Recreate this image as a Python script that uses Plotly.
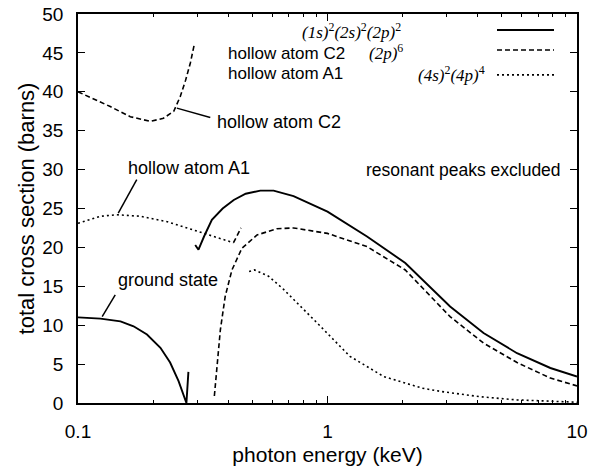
import plotly.graph_objects as go

# ---- data ----
ground_x = [0.1, 0.123, 0.148, 0.167, 0.189, 0.214, 0.234, 0.253, 0.272, 0.277]
ground_y = [11.0, 10.85, 10.5, 9.86, 8.8, 7.1, 5.2, 2.8, 0.0, 4.0]

solid_hi_x = [0.295, 0.304, 0.32, 0.344, 0.38, 0.421, 0.47, 0.538, 0.608, 0.731, 1.0, 1.44, 2.05, 3.10, 4.22, 5.75, 7.82, 10.0]
solid_hi_y = [20.3, 19.7, 21.4, 23.55, 25.0, 26.1, 26.9, 27.3, 27.3, 26.6, 24.6, 21.4, 18.0, 12.4, 9.0, 6.4, 4.5, 3.4]

c2_lo_x = [0.1, 0.1347, 0.162, 0.195, 0.22, 0.242, 0.257, 0.27, 0.282, 0.293]
c2_lo_y = [40.0, 38.1, 36.8, 36.2, 36.6, 37.5, 39.4, 41.5, 43.7, 46.2]

c2_tick_x = [0.42, 0.45]
c2_tick_y = [20.6, 22.5]

c2_hi_x = [0.352, 0.361, 0.372, 0.389, 0.414, 0.454, 0.522, 0.627, 0.731, 1.0, 1.44, 2.05, 3.10, 4.22, 5.75, 7.82, 10.0]
c2_hi_y = [0.9, 4.7, 9.4, 13.7, 17.1, 19.9, 21.6, 22.4, 22.5, 21.8, 20.1, 17.1, 11.1, 7.7, 5.2, 3.2, 2.2]

a1_lo_x = [0.1, 0.123, 0.143, 0.178, 0.228, 0.28, 0.33, 0.38, 0.42]
a1_lo_y = [23.1, 24.0, 24.2, 24.0, 23.3, 22.4, 21.6, 21.0, 20.6]

a1_hi_x = [0.485, 0.51, 0.58, 0.667, 0.908, 1.23, 1.68, 2.4, 2.83, 4.1, 5.75, 7.1, 10.0]
a1_hi_y = [16.9, 17.1, 16.3, 14.6, 10.3, 6.0, 3.4, 1.9, 1.5, 0.8, 0.4, 0.25, 0.1]

# leader lines for curve labels
lead_ground = ([0.141, 0.125], [13.9, 11.1])
lead_a1 = ([0.172, 0.145], [28.7, 24.4])
lead_c2 = ([0.249, 0.339], [37.9, 36.7])

x_major = [0.1, 1, 10]
x_major_text = ["0.1", "1", "10"]
x_minor = [0.2, 0.3, 0.4, 0.5, 0.6, 0.7, 0.8, 0.9, 2, 3, 4, 5, 6, 7, 8, 9]
y_ticks = list(range(0, 51, 5))

SANS = "Liberation Sans, Helvetica, Arial, sans-serif"
SERIF = "Liberation Serif, Times New Roman, serif"
DASH = "5px,3px"
DOT = "2px,3px"

fig = go.Figure()

def add_line(x, y, dash, width=1.6):
    fig.add_trace(go.Scatter(x=x, y=y, mode="lines", showlegend=False,
                             line=dict(color="black", width=width, dash=dash),
                             hoverinfo="skip"))

add_line(ground_x, ground_y, "solid", 1.9)
add_line(solid_hi_x, solid_hi_y, "solid", 1.9)
add_line(c2_lo_x, c2_lo_y, DASH)
add_line(c2_tick_x, c2_tick_y, DASH)
add_line(c2_hi_x, c2_hi_y, DASH)
add_line(a1_lo_x, a1_lo_y, DOT)
add_line(a1_hi_x, a1_hi_y, DOT)
for lx, ly in (lead_ground, lead_a1, lead_c2):
    add_line(lx, ly, "solid", 1.5)

# plot area in pixels
L, R, T, B = 78, 577, 14, 403.5
W, H = R - L, B - T

def px(x):
    return (x - L) / W

def py(y):
    return (B - y) / H

annotations = []

def text(xp, yp, s, xanchor="center", font=SANS, size=18):
    annotations.append(dict(x=px(xp), y=py(yp), xref="paper", yref="paper",
                            text=s, showarrow=False, xanchor=xanchor, yanchor="middle",
                            font=dict(family=font, size=size, color="black")))

# curve labels
text(168, 280, "ground state")
text(189, 168, "hollow atom A1")
text(279, 122, "hollow atom C2")
text(563, 170, "resonant peaks excluded", xanchor="right", size=17.5)

# key
text(403, 31, "<i>(1s)</i><sup>2</sup><i>(2s)</i><sup>2</sup><i>(2p)</i><sup>2</sup>", xanchor="right", font=SERIF, size=17)
text(226, 54, "hollow atom C2", xanchor="left", size=17)
text(405, 52, "<i>(2p)</i><sup>6</sup>", xanchor="right", font=SERIF, size=17)
text(226, 74, "hollow atom A1", xanchor="left", size=17)
text(487, 74, "<i>(4s)</i><sup>2</sup><i>(4p)</i><sup>4</sup>", xanchor="right", font=SERIF, size=17)

shapes = []
for yy, dash, w in ((30, "solid", 1.9), (50, DASH, 1.6), (75, DOT, 1.6)):
    shapes.append(dict(type="line", xref="paper", yref="paper",
                       x0=px(497), x1=px(554), y0=py(yy), y1=py(yy),
                       line=dict(color="black", width=w, dash=dash)))

axis_common = dict(showline=True, linecolor="black", linewidth=1.5, mirror="allticks",
                   ticks="inside", ticklen=7, tickwidth=1, tickcolor="black",
                   showgrid=False, zeroline=False, automargin=False,
                   tickfont=dict(family=SANS, size=19, color="black"))

fig.update_layout(
    width=589, height=466,
    margin=dict(l=L, r=589 - R, t=T, b=466 - B, pad=0),
    paper_bgcolor="white", plot_bgcolor="white",
    showlegend=False,
    xaxis=dict(type="log", range=[-1, 1], tickvals=x_major, ticktext=x_major_text,
               ticklabelstandoff=10,
               minor=dict(tickvals=x_minor, ticks="inside", ticklen=3.5, tickwidth=1,
                          tickcolor="black", showgrid=False),
               title=dict(text="photon energy (keV)", font=dict(family=SANS, size=21, color="black"),
                          standoff=10),
               **axis_common),
    yaxis=dict(range=[0, 50], tickvals=y_ticks, ticklabelstandoff=9,
               title=dict(text="total cross section (barns)", font=dict(family=SANS, size=22, color="black"),
                          standoff=2),
               **axis_common),
    annotations=annotations,
    shapes=shapes,
)

fig.write_html("out.html")
